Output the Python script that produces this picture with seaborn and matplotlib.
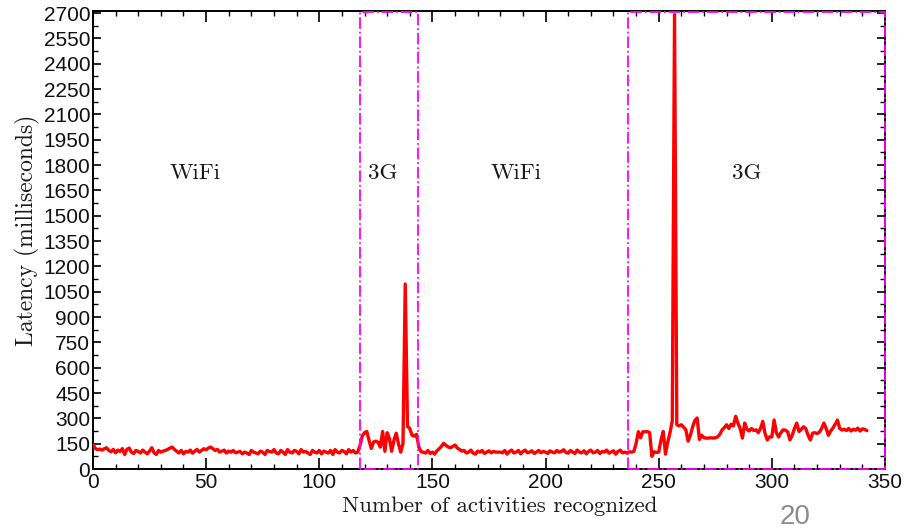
import numpy as np
import pandas as pd
import seaborn as sns
import matplotlib.pyplot as plt
from matplotlib.ticker import MultipleLocator

# Latency per recognized activity
wifi_first = [
    145, 122, 115, 118, 112, 120, 126, 110, 102, 116,
    96, 112, 104, 121, 86, 116, 124, 100, 92, 110,
    104, 95, 112, 100, 90, 106, 126, 96, 86, 110,
    100, 106, 110, 116, 124, 130, 116, 105, 95, 110,
    90, 104, 100, 112, 94, 106, 116, 100, 110, 120,
    114, 124, 130, 120, 110, 116, 100, 106, 112, 95,
    106, 100, 110, 96, 100, 104, 90, 100, 95, 86,
    110, 100, 95, 90, 106, 100, 86, 110, 104, 100,
    115, 95, 90, 110, 100, 86, 115, 100, 95, 110,
    105, 90, 115, 100, 104, 95, 86, 110, 100, 95,
    110, 90, 106, 100, 95, 110, 86, 115, 100, 95,
    110, 104, 90, 115, 100, 110, 95, 100,
]
g3_first = [
    140, 195, 215, 222, 170, 122, 160, 165, 158, 130,
    222, 105, 215, 180, 105, 170, 212, 150, 100, 150,
    1095, 252, 240, 200, 195, 205,
]
wifi_second = [
    130, 102, 100, 94, 110, 92, 100, 88, 108, 120,
    135, 152, 140, 130, 126, 134, 142, 124, 116, 106,
    110, 95, 100, 112, 94, 88, 106, 100, 110, 92,
    100, 108, 96, 104, 100, 100, 100, 96, 110, 88,
    104, 112, 95, 100, 110, 90, 104, 112, 96, 100,
    108, 92, 100, 110, 96, 104, 100, 92, 108, 100,
    96, 110, 100, 104, 114, 98, 94, 110, 100, 92,
    112, 100, 96, 108, 90, 104, 112, 96, 100, 110,
    92, 104, 100, 112, 94, 100, 108, 88, 104, 112,
    96, 100,
]
g3_second = [
    94, 102, 100, 104, 150, 221, 185, 221, 220, 222,
    215, 75, 102, 98, 100, 170, 222, 88, 160, 215,
    285, 2690, 262, 255, 262, 248, 232, 165, 200, 250,
    288, 302, 175, 200, 185, 183, 183, 185, 183, 185,
    190, 205, 231, 245, 262, 240, 265, 255, 312, 272,
    240, 183, 272, 235, 225, 240, 228, 232, 215, 240,
    282, 210, 172, 190, 190, 290, 215, 190, 215, 232,
    230, 220, 172, 200, 240, 272, 222, 235, 250, 240,
    200, 172, 212, 215, 210, 218, 240, 272, 240, 200,
    225, 243, 265, 290, 240, 231, 235, 228, 240, 225,
    235, 230, 242, 225, 238, 235, 227,
]

# network periods (start, end) and their labels
box_edges = [(118, 143.5), (236.5, 350)]
box_top = 2705
region_names = ["WiFi", "3G", "WiFi", "3G"]
region_x = [45, 128, 187, 289]
region_y = 1750

latency = wifi_first + g3_first + wifi_second + g3_second
df = pd.DataFrame({"activity": np.arange(len(latency)), "latency": latency})

sns.set_style("ticks")
plt.rcParams['font.family'] = ['Liberation Sans', 'DejaVu Sans']

fig = plt.figure(figsize=(9.06, 5.29), dpi=100)
ax = fig.add_axes([0.1026, 0.1134, 0.8742, 0.8658])

sns.lineplot(data=df, x="activity", y="latency", ax=ax, color="red", linewidth=2.4, zorder=4)

for x0, x1 in box_edges:
    ax.plot([x0, x0, x1, x1, x0], [0, box_top, box_top, 0, 0], color="#ff00ff",
            linestyle="-.", linewidth=1.3, clip_on=False, zorder=5)

for name, xt in zip(region_names, region_x):
    ax.text(xt, region_y, name, ha="center", va="center", fontsize=16.5,
            family="cmr10", color="#1a1a1a")

ax.set_xlim(0, 350)
ax.set_ylim(0, 2712)
ax.xaxis.set_major_locator(MultipleLocator(50))
ax.xaxis.set_minor_locator(MultipleLocator(10))
ax.yaxis.set_major_locator(MultipleLocator(150))
ax.yaxis.set_minor_locator(MultipleLocator(75))
ax.tick_params(which="both", direction="in", top=True, right=True, color="black",
               labelsize=15, pad=2, labelcolor="#111111")
ax.tick_params(axis="x", which="major", length=8, width=1.2, pad=3)
ax.tick_params(axis="y", which="major", length=6, width=1.2)
ax.tick_params(which="minor", length=3.5, width=1.0)
for side in ax.spines.values():
    side.set_linewidth(1.4)
    side.set_color("black")

ax.set_xlabel("Number of activities recognized", family="cmr10", fontsize=16.5, color="#1a1a1a")
ax.set_ylabel("Latency (milliseconds)", family="cmr10", fontsize=17, color="#1a1a1a")
ax.xaxis.set_label_coords(0.514, -0.059)
ax.yaxis.set_label_coords(-0.067, 0.522)

fig.text(795 / 906, 1 - 517 / 529, "20", ha="center", va="center", fontsize=20, color="#8c8c8c")

fig.savefig("out.png", dpi=100)
